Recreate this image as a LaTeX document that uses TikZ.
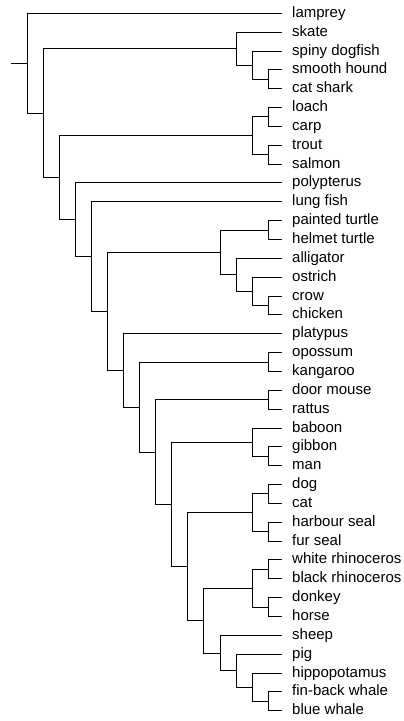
\documentclass[tikz,border=0pt]{standalone}
\usepackage{fontspec}
\setmainfont{Liberation Sans}
\usepackage{tikz}
\usetikzlibrary{calc}
\newcommand{\lstep}{16.09}
\newcommand{\lzero}{27}
% clade: name, level, upper child, lower child
\newcommand{\clade}[4]{%
  \path let \p1=(#3), \p2=(#4) in coordinate (#1) at (\lzero+#2*\lstep, {0.5*(\y1+\y2)});
  \draw[branch] (#1) |- (#3) (#1) |- (#4);}

\begin{document}
\begin{tikzpicture}[x=1pt, y=-1pt,
  branch/.style={line width=1pt, black},
  leaf/.style={anchor=west, inner xsep=10pt, inner ysep=0pt, text height=11pt, text depth=3pt,
    font=\fontsize{15}{17}\selectfont}]
  \useasboundingbox (0,0) rectangle (404,721);

  \foreach \nm/\txt [count=\i from 0] in {lamprey/lamprey, skate/skate, dogfish/spiny dogfish,
      hound/smooth hound, catshark/cat shark, loach/loach, carp/carp, trout/trout, salmon/salmon,
      polypterus/polypterus, lungfish/lung fish, pturtle/painted turtle, hturtle/helmet turtle,
      alligator/alligator, ostrich/ostrich, crow/crow, chicken/chicken, platypus/platypus,
      opossum/opossum, kangaroo/kangaroo, dormouse/door mouse, rattus/rattus, baboon/baboon,
      gibbon/gibbon, man/man, dog/dog, cat/cat, hseal/harbour seal, fseal/fur seal,
      wrhino/white rhinoceros, brhino/black rhinoceros, donkey/donkey, horse/horse,
      sheep/sheep, pig/pig, hippo/hippopotamus, finback/fin-back whale, bwhale/blue whale}
    \node[leaf] (\nm) at (282, 13.3+18.85*\i) {\txt};

  % fishes
  \clade{houndcat}{15}{hound}{catshark}
  \clade{dogfishes}{14}{dogfish}{houndcat}
  \clade{sharks}{13}{skate}{dogfishes}
  \clade{loachcarp}{15}{loach}{carp}
  \clade{troutsalmon}{15}{trout}{salmon}
  \clade{teleosts}{14}{loachcarp}{troutsalmon}
  % reptiles and birds
  \clade{turtles}{15}{pturtle}{hturtle}
  \clade{crowchicken}{15}{crow}{chicken}
  \clade{birds}{14}{ostrich}{crowchicken}
  \clade{archosaurs}{13}{alligator}{birds}
  \clade{sauropsids}{12}{turtles}{archosaurs}
  % mammals
  \clade{marsupials}{15}{opossum}{kangaroo}
  \clade{rodents}{15}{dormouse}{rattus}
  \clade{apes}{15}{gibbon}{man}
  \clade{primates}{14}{baboon}{apes}
  \clade{dogcat}{15}{dog}{cat}
  \clade{seals}{15}{hseal}{fseal}
  \clade{carnivores}{14}{dogcat}{seals}
  \clade{rhinos}{15}{wrhino}{brhino}
  \clade{equids}{15}{donkey}{horse}
  \clade{perisso}{14}{rhinos}{equids}
  \clade{whales}{15}{finback}{bwhale}
  \clade{whippo}{14}{hippo}{whales}
  \clade{suiformes}{13}{pig}{whippo}
  \clade{cetartio}{12}{sheep}{suiformes}
  \clade{ungulates}{11}{perisso}{cetartio}
  \clade{ferungulates}{10}{carnivores}{ungulates}
  \clade{euarchonta}{9}{primates}{ferungulates}
  \clade{glires}{8}{rodents}{euarchonta}
  \clade{theria}{7}{marsupials}{glires}
  \clade{mammals}{6}{platypus}{theria}
  % backbone
  \clade{amniotes}{5}{sauropsids}{mammals}
  \clade{tetrapods}{4}{lungfish}{amniotes}
  \clade{bony}{3}{polypterus}{tetrapods}
  \clade{osteich}{2}{teleosts}{bony}
  \clade{gnatho}{1}{sharks}{osteich}
  \clade{root}{0}{lamprey}{gnatho}
  \coordinate (stem) at ([xshift=-15.7pt]root);
  \draw[branch] (stem) -- (root);
\end{tikzpicture}
\end{document}
